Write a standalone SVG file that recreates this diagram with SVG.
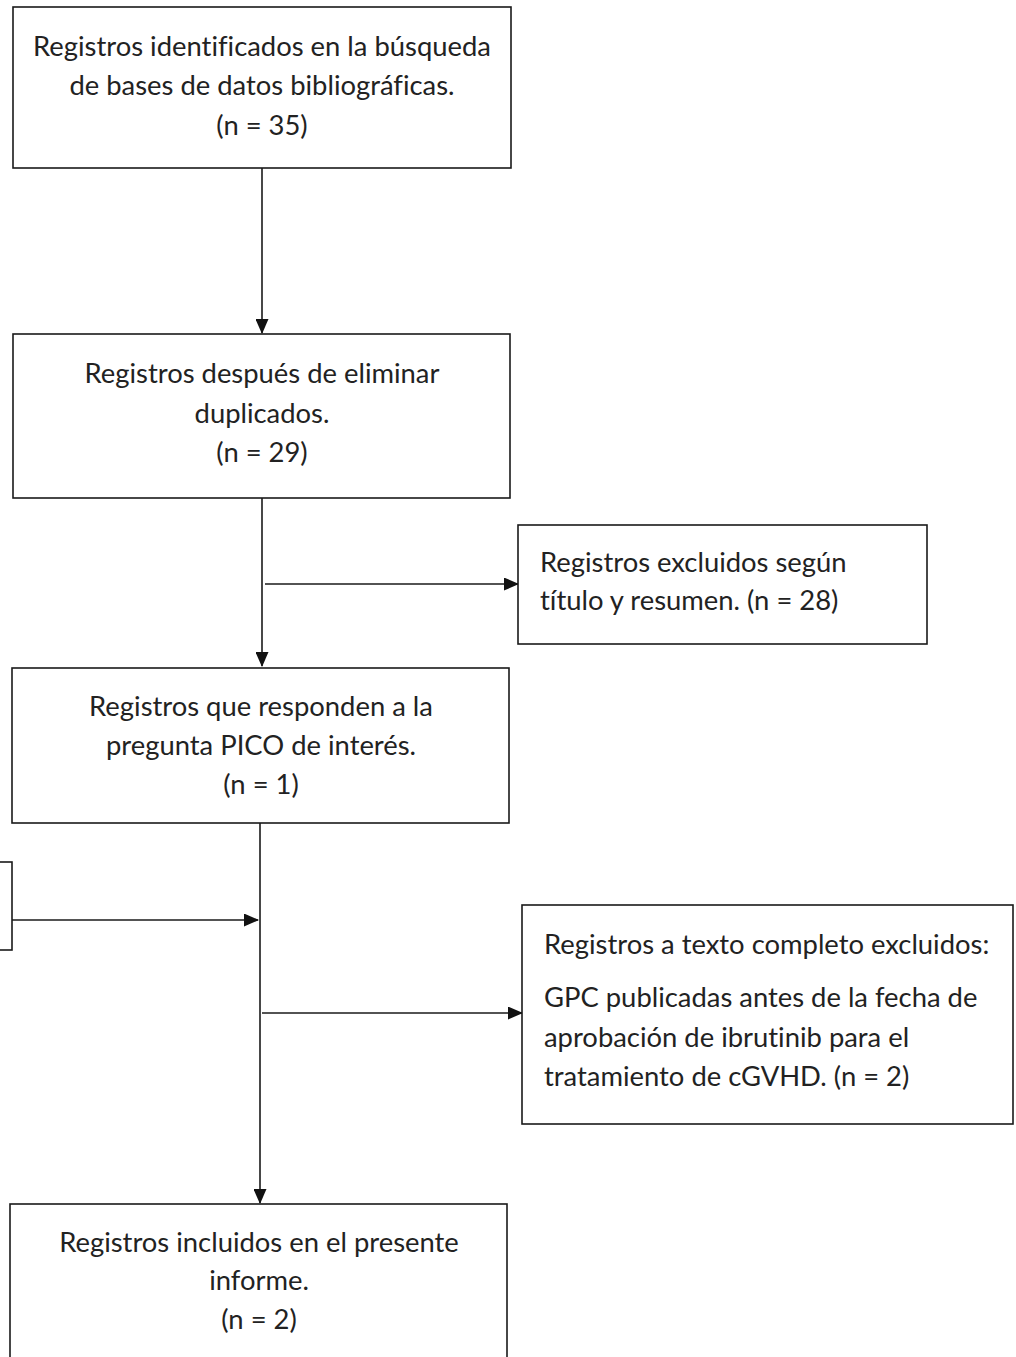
<svg xmlns="http://www.w3.org/2000/svg" width="1016" height="1357" viewBox="0 0 1016 1357">
<style>
.box{fill:#fff;stroke:#1a1a1a;stroke-width:1.6}
.t{font-family:Lato,"Open Sans","Liberation Sans",sans-serif;font-size:27.4px;fill:#222;font-variant-ligatures:none}
.c{text-anchor:middle}
.ln{stroke:#1a1a1a;stroke-width:1.6;fill:none}
</style>
<defs>
<marker id="ah" markerWidth="15" markerHeight="13" refX="14" refY="6.5" orient="auto" markerUnits="userSpaceOnUse">
<path d="M0,0 L15,6.5 L0,13 Z" fill="#111"/>
</marker>
</defs>
<rect width="1016" height="1357" fill="#fff"/>
<g id="connectors">
<line class="ln" x1="262" y1="168" x2="262" y2="333" marker-end="url(#ah)"/>
<line class="ln" x1="262" y1="498" x2="262" y2="666" marker-end="url(#ah)"/>
<line class="ln" x1="265" y1="584" x2="518" y2="584" marker-end="url(#ah)"/>
<line class="ln" x1="260" y1="823" x2="260" y2="1203" marker-end="url(#ah)"/>
<line class="ln" x1="12" y1="920" x2="258" y2="920" marker-end="url(#ah)"/>
<line class="ln" x1="262" y1="1013" x2="522" y2="1013" marker-end="url(#ah)"/>
</g>
<g id="n1">
<rect class="box" x="13" y="7" width="498" height="161"/>
<text class="t c" x="262" y="56">Registros identificados en la búsqueda</text>
<text class="t c" x="262" y="95">de bases de datos bibliográficas.</text>
<text class="t c" x="262" y="135">(n = 35)</text>
</g>
<g id="n2">
<rect class="box" x="13" y="334" width="497" height="164"/>
<text class="t c" x="262" y="383">Registros después de eliminar</text>
<text class="t c" x="262" y="423">duplicados.</text>
<text class="t c" x="262" y="462">(n = 29)</text>
</g>
<g id="n3">
<rect class="box" x="518" y="525" width="409" height="119"/>
<text class="t" x="540" y="572">Registros excluidos según</text>
<text class="t" x="540" y="610">título y resumen. (n = 28)</text>
</g>
<g id="n4">
<rect class="box" x="12" y="668" width="497" height="155"/>
<text class="t c" x="261" y="716">Registros que responden a la</text>
<text class="t c" x="261" y="755">pregunta PICO de interés.</text>
<text class="t c" x="261" y="794">(n = 1)</text>
</g>
<g id="n5">
<rect class="box" x="-20" y="862" width="32" height="88"/>
</g>
<g id="n6">
<rect class="box" x="522" y="905" width="491" height="219"/>
<text class="t" x="544" y="954">Registros a texto completo excluidos:</text>
<text class="t" x="544" y="1007">GPC publicadas antes de la fecha de</text>
<text class="t" x="544" y="1047">aprobación de ibrutinib para el</text>
<text class="t" x="544" y="1086">tratamiento de cGVHD. (n = 2)</text>
</g>
<g id="n7">
<rect class="box" x="10" y="1204" width="497" height="170"/>
<text class="t c" x="259" y="1252">Registros incluidos en el presente</text>
<text class="t c" x="259" y="1290">informe.</text>
<text class="t c" x="259" y="1329">(n = 2)</text>
</g>
</svg>
